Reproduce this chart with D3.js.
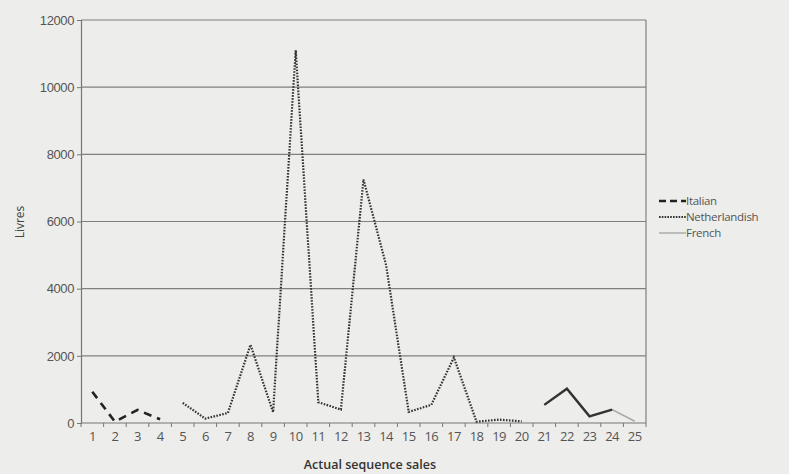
<!DOCTYPE html>
<html>
<head>
<meta charset="utf-8">
<script src="https://cdn.jsdelivr.net/npm/d3@7"></script>
<style>
    body { margin: 0; background: #ededeb; }
    svg { display: block; font-family: 'Open Sans', sans-serif; }
</style>
</head>
<body>
<div id="chart"></div>
<script>
// Data
const sales = d3.range(1, 26);
const italian = [[1, 930], [2, 40], [3, 390], [4, 110]];
const netherlandish = [[5, 600], [6, 130], [7, 300], [8, 2330], [9, 320], [10, 11100],
    [11, 620], [12, 400], [13, 7250], [14, 4700], [15, 330], [16, 540], [17, 1950],
    [18, 40], [19, 100], [20, 50]];
const french = [[21, 540], [22, 1020], [23, 200], [24, 400], [25, 50]];
const yTicks = [0, 2000, 4000, 6000, 8000, 10000, 12000];
const legendItems = ['Italian', 'Netherlandish', 'French'];

const width = 789, height = 474;
const margin = { top: 20, right: 143, bottom: 51, left: 81 };
const innerW = width - margin.left - margin.right;
const innerH = height - margin.top - margin.bottom;

const svg = d3.select('#chart').append('svg')
    .attr('width', width)
    .attr('height', height);

const g = svg.append('g')
    .attr('transform', `translate(${margin.left},${margin.top})`);

const x = d3.scaleBand().domain(sales).range([0, innerW]);
const y = d3.scaleLinear().domain([0, 12000]).range([innerH, 0]);
const cx = d => x(d) + x.bandwidth() / 2;

// Gridlines
g.selectAll('.grid')
    .data(yTicks.filter(d => d > 0))
    .join('line')
    .attr('x1', 0).attr('x2', innerW)
    .attr('y1', d => y(d)).attr('y2', d => y(d))
    .attr('stroke', '#808080')
    .attr('stroke-width', 1.2);

// Right border
g.append('line')
    .attr('x1', innerW).attr('x2', innerW)
    .attr('y1', y(12000)).attr('y2', innerH)
    .attr('stroke', '#808080')
    .attr('stroke-width', 1.2);

// Y axis
const yAxis = g.append('g')
    .call(d3.axisLeft(y).tickValues(yTicks).tickSize(4).tickPadding(3).tickFormat(d3.format('d')));
yAxis.select('.domain').attr('stroke', '#777').attr('stroke-width', 1.2);
yAxis.selectAll('.tick line').attr('stroke', '#777');
yAxis.selectAll('text').attr('fill', '#555').style('font-size', '13px').style('letter-spacing', '-0.4px');

// X axis: ticks at band boundaries, labels centred
const xAxis = g.append('g').attr('transform', `translate(0,${innerH})`);
xAxis.append('line')
    .attr('x1', 0).attr('x2', innerW)
    .attr('stroke', '#777').attr('stroke-width', 1.2);
xAxis.selectAll('.xtick')
    .data(sales.concat([26]))
    .join('line')
    .attr('x1', d => d === 26 ? innerW : x(d))
    .attr('x2', d => d === 26 ? innerW : x(d))
    .attr('y1', 0).attr('y2', 4)
    .attr('stroke', '#777');
xAxis.selectAll('.xlabel')
    .data(sales)
    .join('text')
    .attr('x', d => cx(d))
    .attr('y', 18)
    .attr('text-anchor', 'middle')
    .attr('fill', '#555')
    .style('font-size', '13px')
    .style('letter-spacing', '-0.6px')
    .text(d => d);

// Axis titles
svg.append('text')
    .attr('x', 370).attr('y', 469)
    .attr('text-anchor', 'middle')
    .attr('fill', '#333')
    .style('font-size', '12.5px')
    .style('font-weight', '600')
    .text('Actual sequence sales');

svg.append('text')
    .attr('transform', 'translate(24,222) rotate(-90)')
    .attr('text-anchor', 'middle')
    .attr('fill', '#444')
    .style('font-size', '12px')
    .text('Livres');

// Lines
const line = d3.line().x(d => cx(d[0])).y(d => y(d[1]));

g.append('path').datum(italian)
    .attr('d', line)
    .attr('fill', 'none')
    .attr('stroke', '#222')
    .attr('stroke-width', 2.6)
    .attr('stroke-dasharray', '8,6');

g.append('path').datum(netherlandish)
    .attr('d', line)
    .attr('fill', 'none')
    .attr('stroke', '#333')
    .attr('stroke-width', 2.2)
    .attr('stroke-dasharray', '1.6,1.4');

g.append('path').datum(french)
    .attr('d', line)
    .attr('fill', 'none')
    .attr('stroke', '#a8a8a8')
    .attr('stroke-width', 1.6);

// printed darker over the first stretch
g.append('path').datum(french.slice(0, 4))
    .attr('d', line)
    .attr('fill', 'none')
    .attr('stroke', '#333')
    .attr('stroke-width', 2.4);

// Legend
const legend = svg.append('g').attr('transform', 'translate(659,201)');
const legendStyles = [
    { stroke: '#222', width: 2.4, dash: '7,4' },
    { stroke: '#333', width: 2, dash: '1.6,1.2' },
    { stroke: '#a8a8a8', width: 1.4, dash: null }
];
legendItems.forEach((name, i) => {
    const row = legend.append('g').attr('transform', `translate(0,${i * 16})`);
    row.append('line')
        .attr('x1', 0).attr('x2', 27)
        .attr('stroke', legendStyles[i].stroke)
        .attr('stroke-width', legendStyles[i].width)
        .attr('stroke-dasharray', legendStyles[i].dash);
    row.append('text')
        .attr('x', 27).attr('y', 4)
        .attr('fill', '#555')
        .style('font-size', '11.5px')
        .style('letter-spacing', '-0.3px')
        .text(name);
});
</script>
</body>
</html>
